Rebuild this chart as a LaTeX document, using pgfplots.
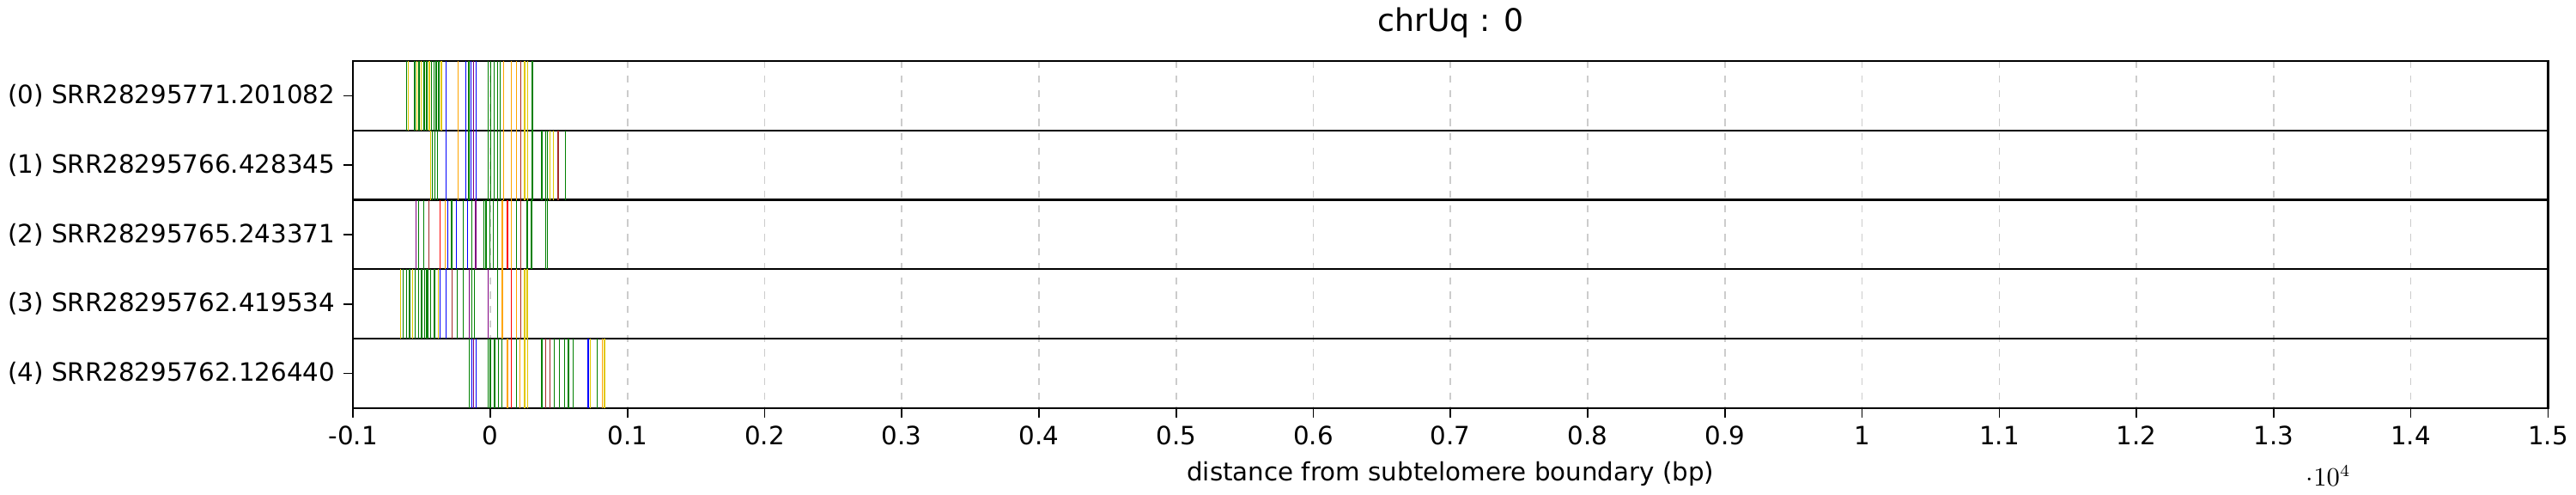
\documentclass[border=0pt]{standalone}
\usepackage{pgfplots}
\pgfplotsset{compat=1.18}
\usepackage{fontspec}
\setmainfont{DejaVu Sans}
\definecolor{mg}{RGB}{0,128,0}
\definecolor{my}{RGB}{225,200,0}
\definecolor{mb}{RGB}{0,0,255}
\definecolor{mo}{RGB}{255,165,0}
\definecolor{mp}{RGB}{128,0,128}
\definecolor{mbr}{RGB}{165,42,42}
\definecolor{mr}{RGB}{255,0,0}
\newcommand\Lns[2]{\addplot[draw=none,mark=none,forget plot,error bars/.cd,y dir=both,y fixed=0.5,error mark=none,error bar style={#1,line width=0.45pt}] coordinates {#2};}
\begin{document}
\begin{tikzpicture}
\begin{axis}[width=12.66in,height=2in,scale only axis,
  xmin=-1000,xmax=15000,ymin=-0.5,ymax=4.5,y dir=reverse,
  xtick={-1000,0,...,15000},
  ytick={0,1,2,3,4},
  yticklabels={(0) SRR28295771.201082,(1) SRR28295766.428345,(2) SRR28295765.243371,(3) SRR28295762.419534,(4) SRR28295762.126440},
  /pgf/number format/1000 sep={},
  /pgf/number format/assume math mode=true,
  xmajorgrids, major grid style={dashed,gray!40,line width=0.6pt},
  extra y ticks={0.5,1.5,2.5,3.5}, extra y tick labels={},
  extra y tick style={grid=major,major grid style={black,solid,line width=0.8pt},major tick length=0pt},
  tick align=outside, tick style={black,line width=0.6pt}, major tick length=4pt,
  xtick pos=bottom, ytick pos=left,
  ticklabel style={font=\fontsize{10.5}{12}\selectfont},
  xlabel={distance from subtelomere boundary (bp)},
  xlabel style={font=\fontsize{10.5}{12}\selectfont},
  title={chrUq : 0}, title style={font=\fontsize{13}{15}\selectfont},
  axis line style={line width=0.8pt}]
% row 0
\Lns{mg}{(-611,0)(-551,0)(-519,0)(-482,0)(-463,0)(-431,0)(-412,0)(-394,0)(-375,0)(-157,0)(-14,0)(5,0)(28,0)(51,0)(74,0)(306,0)}
\Lns{my}{(-597,0)(-537,0)(-505,0)(-445,0)(-357,0)(250,0)(273,0)}
\Lns{mb}{(-324,0)(-176,0)(-139,0)(-102,0)}
\Lns{mo}{(-236,0)(97,0)(153,0)(190,0)}
\Lns{mp}{(-120,0)}
\Lns{mbr}{(222,0)}
% row 1
\Lns{my}{(-435,1)(250,1)(273,1)(435,1)(458,1)}
\Lns{mg}{(-421,1)(-403,1)(-384,1)(-157,1)(-14,1)(5,1)(28,1)(51,1)(74,1)(306,1)(375,1)(403,1)(417,1)(546,1)}
\Lns{mb}{(-324,1)(-176,1)(-139,1)(-102,1)}
\Lns{mo}{(-236,1)(97,1)(153,1)(190,1)}
\Lns{mp}{(-120,1)}
\Lns{mbr}{(222,1)(495,1)}
% row 2
\Lns{mp}{(-542,2)(-106,2)}
\Lns{mg}{(-523,2)(-486,2)(-282,2)(-199,2)(-134,2)(-46,2)(-32,2)(-5,2)(23,2)(51,2)(190,2)(269,2)(301,2)(403,2)(417,2)}
\Lns{mbr}{(-449,2)(222,2)}
\Lns{mr}{(-366,2)(125,2)}
\Lns{mo}{(-329,2)(88,2)(153,2)}
\Lns{mb}{(-310,2)(-245,2)(-167,2)}
% row 3
\Lns{my}{(-653,3)(-565,3)(-380,3)(250,3)(269,3)}
\Lns{mg}{(-634,3)(-611,3)(-588,3)(-546,3)(-523,3)(-500,3)(-477,3)(-463,3)(-454,3)(-435,3)(-407,3)(-241,3)(-199,3)(-134,3)(-116,3)(51,3)}
\Lns{mb}{(-366,3)(-324,3)}
\Lns{mbr}{(-278,3)(222,3)}
\Lns{mp}{(-153,3)(-14,3)}
\Lns{mo}{(88,3)(190,3)}
\Lns{mr}{(153,3)}
% row 4
\Lns{mg}{(-153,4)(-14,4)(0,4)(32,4)(60,4)(83,4)(190,4)(250,4)(375,4)(468,4)(505,4)(542,4)(569,4)(606,4)(778,4)}
\Lns{mb}{(-134,4)(-102,4)(713,4)}
\Lns{mp}{(-120,4)}
\Lns{mo}{(125,4)(217,4)(815,4)}
\Lns{mr}{(153,4)}
\Lns{my}{(250,4)(273,4)(731,4)(833,4)}
\Lns{mbr}{(403,4)(435,4)}
\end{axis}
\end{tikzpicture}
\end{document}
